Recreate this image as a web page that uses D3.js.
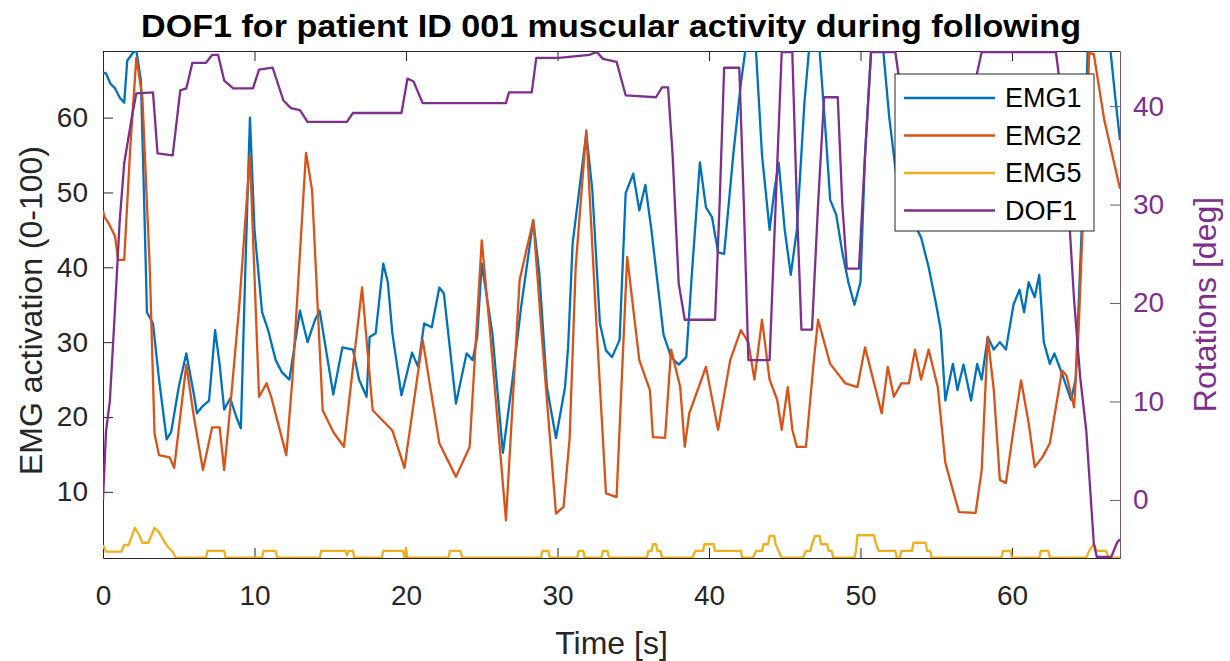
<!DOCTYPE html>
<meta charset="utf-8">
<style>
body { margin: 0; background: #fff; }
text { font-family: "Liberation Sans", Arial, sans-serif; }
</style>
<svg width="1230" height="661"></svg>
<script src="https://d3js.org/d3.v7.min.js"></script>
<script>

// tick labels
var timeTicks = [0, 10, 20, 30, 40, 50, 60];
var emgTicks = [10, 20, 30, 40, 50, 60];
var rotTicks = [0, 10, 20, 30, 40];
var seriesNames = ["EMG1", "EMG2", "EMG5", "DOF1"];

// [time s, activation]
var emg1 = [[0,66],[0.2,65.9],[0.5,64.5],[0.8,63.9],[1.1,62.7],[1.4,62],[1.6,67.6],[1.95,68.6],[2.2,69],[2.5,65],[2.7,50],[2.9,34],[3.3,32.5],[3.7,25],[4.2,17],[4.5,18],[5.0,24],[5.5,28.5],[6.0,23],[6.2,20.5],[6.6,21.5],[7.0,22.2],[7.4,31.6],[7.7,27],[8.0,21],[8.4,22.5],[8.8,20],[9.1,18.5],[9.4,40],[9.7,60],[10.0,45],[10.5,34],[10.9,31.6],[11.4,27.6],[11.8,26],[12.3,25],[13.0,34.2],[13.5,30],[14.0,33],[14.3,34.2],[14.8,28],[15.2,23],[15.8,29.3],[16.5,29],[16.9,25],[17.4,22.7],[17.6,30.7],[18.0,31.2],[18.5,40.5],[18.8,38],[19.1,31.2],[19.7,22.9],[20.4,28.6],[20.8,26.7],[21.2,32.5],[21.7,32],[22.2,37.3],[22.5,36.5],[23.3,21.8],[24.0,28.5],[24.4,27.6],[24.7,30.7],[25.0,40.5],[25.7,31.2],[26.4,15.2],[27.0,24.5],[27.6,34.7],[28.4,46.3],[28.8,39.2],[29.3,24],[29.9,17.2],[30.5,24],[30.7,29.3],[31.0,43.2],[31.9,57.9],[32.3,50.3],[32.8,32.5],[33.2,28.9],[33.6,28],[34.1,30.3],[34.5,49.9],[35.0,52.5],[35.4,47.6],[35.8,51],[36.2,45],[36.6,38],[37.0,31],[37.5,28],[38.0,27],[38.5,28],[38.9,40],[39.4,54],[39.8,48],[40.2,46.7],[40.6,42],[41.0,41.8],[41.6,55],[42.1,64.5],[42.4,69],[43.1,69],[43.5,55],[44.0,45],[44.3,50],[44.6,54],[45.0,45],[45.4,39],[45.8,45],[46.3,62],[46.6,69],[47.3,69],[47.7,58],[48.0,49],[48.4,47],[48.8,42],[49.2,38],[49.6,35],[50.0,38],[50.3,55],[50.7,69],[51.5,69],[51.9,60],[52.5,50],[53.0,47],[53.5,46],[54.0,44],[54.5,40],[55.0,35],[55.3,31.6],[55.6,22.2],[56.1,27.1],[56.4,23.6],[56.8,27],[57.3,22.2],[57.7,27.1],[58.0,25],[58.4,30.7],[58.8,29],[59.2,30],[59.6,29],[60.1,35],[60.5,37],[60.8,34],[61.1,38],[61.5,36],[61.8,39],[62.1,30],[62.5,27.1],[62.8,28.5],[63.3,25.8],[63.9,22.3],[64.2,25],[64.6,45],[65.0,69],[66.5,69],[66.8,63],[67.13,57]];

var emg2 = [[0,47.6],[0.1,46.7],[0.4,45.8],[0.8,44.1],[1.0,41],[1.4,41],[1.8,56],[2.2,68],[2.6,62.7],[3.1,39.2],[3.4,17.8],[3.7,14.9],[4.4,14.6],[4.7,13.2],[5.5,27],[6.0,20],[6.6,12.9],[7.2,18.6],[7.7,18.6],[8.0,12.9],[8.4,21.3],[9.0,35],[9.7,55],[10.3,22.7],[10.8,24.5],[11.1,22.7],[12.1,14.9],[12.5,25],[13.4,55.3],[13.8,50.3],[14.5,20.9],[15.2,18],[15.9,16],[17.1,37.3],[17.8,20.9],[19.1,18.2],[19.9,13.2],[21.1,30.3],[22.2,16.5],[23.3,12],[24.2,16],[25.0,43.6],[25.5,32.5],[26.6,6.2],[27.5,38.3],[28.4,46.3],[29.0,30],[29.9,7.1],[30.4,8],[30.8,17.1],[31.2,40],[31.9,58.3],[32.5,35],[33.2,9.8],[33.9,9.3],[34.6,41.4],[35.4,27.6],[36.1,23.6],[36.3,17.3],[37.1,17.2],[37.5,29],[38.1,24],[38.4,16],[38.7,20.5],[39.8,26.7],[40.6,18.3],[41.4,27.6],[42.1,31.6],[42.6,30],[43.0,25],[43.5,33],[44.0,25],[44.5,22.3],[44.8,18.3],[45.2,24],[45.5,18.3],[45.8,16],[46.4,16],[46.9,27.1],[47.2,33],[48.0,27.1],[48.5,25.8],[49.0,24.5],[49.8,24],[50.3,29.3],[51.4,20.5],[51.8,26.7],[52.2,22.7],[52.7,24.5],[53.2,24.5],[53.6,29],[54.0,25],[54.5,29],[55.1,24],[55.6,13.9],[56.1,10.2],[56.5,7.3],[57.6,7.2],[58.0,12.9],[58.4,30.7],[58.8,23.6],[59.2,11.6],[59.6,11.2],[60.1,18.3],[60.6,24.9],[61.1,19.2],[61.5,13.3],[62.0,14.6],[62.5,16.5],[63.3,26.2],[63.6,25.5],[64.1,21.3],[64.4,31.6],[65.1,68.6],[65.4,68.5],[66.1,59.6],[67.13,50.5]];

var emg5 = [[0,2.9],[0.2,2.0],[1.2,2.0],[1.4,2.9],[1.7,2.9],[2.1,5.2],[2.4,4.2],[2.6,3.2],[3.0,3.2],[3.4,5.2],[3.7,4.6],[4.0,3.5],[4.3,2.6],[4.6,2.0],[4.8,1.2],[6.8,1.2],[6.9,2.1],[8.0,2.1],[8.1,1.2],[10.5,1.2],[10.6,2.1],[11.4,2.1],[11.5,1.2],[14.3,1.2],[14.4,2.1],[16.0,2.1],[16.1,1.5],[16.2,2.1],[16.5,2.1],[16.6,1.2],[18.4,1.2],[18.5,2.1],[19.8,2.1],[19.9,1.2],[20.0,2.5],[20.1,1.2],[22.8,1.2],[22.9,2.1],[23.6,2.1],[23.7,1.2],[28.9,1.2],[29.0,2.1],[29.4,2.1],[29.5,1.2],[31.3,1.2],[31.4,2.1],[31.7,2.1],[31.8,1.2],[32.9,1.2],[33.0,2.1],[33.3,2.1],[33.4,1.2],[35.9,1.2],[36.0,2.1],[36.2,2.1],[36.3,3.0],[36.5,3.0],[36.6,2.1],[36.8,2.1],[36.9,1.2],[38.9,1.2],[39.1,2.1],[39.6,2.1],[39.7,3.0],[40.3,3.0],[40.4,2.1],[42.1,2.1],[42.2,1.2],[42.9,1.2],[43.1,2.1],[43.5,2.1],[43.6,3.0],[43.9,3.0],[44.0,4.1],[44.3,4.1],[44.4,3.0],[44.6,2.1],[44.8,1.2],[46.2,1.2],[46.4,2.1],[46.7,2.1],[46.8,3.0],[47.0,4.1],[47.3,4.1],[47.4,3.0],[47.8,3.0],[47.9,2.1],[48.1,2.1],[48.2,1.2],[49.6,1.2],[49.7,2.1],[49.8,4.2],[50.9,4.2],[51.0,3.2],[51.2,2.1],[52.3,2.1],[52.4,1.2],[52.6,1.2],[52.7,2.1],[53.4,2.1],[53.5,3.2],[54.3,3.2],[54.4,2.1],[54.6,2.1],[54.7,1.2],[59.3,1.2],[59.4,2.1],[59.9,2.1],[60.0,1.2],[61.8,1.2],[61.9,2.1],[62.4,2.1],[62.5,1.2],[64.9,1.2],[65.1,2.1],[65.4,3.0],[65.6,2.1],[66.2,2.1],[66.4,1.2],[67.13,1.2]];

// [time s, rotation deg]
var dof1 = [[0,0],[0.2,7],[0.45,10],[0.76,18.5],[1.1,28.3],[1.4,34.2],[1.95,39.3],[2.2,41.3],[3.3,41.4],[3.6,35.2],[4.6,35],[5.1,41.6],[5.5,41.8],[5.9,44.4],[6.8,44.4],[7.2,45.2],[7.6,45.2],[8.0,42.6],[8.6,41.8],[9.9,41.8],[10.3,43.7],[11.2,43.9],[11.9,40.6],[12.4,39.8],[13.0,39.6],[13.5,38.4],[16.1,38.4],[16.5,39.3],[19.7,39.3],[20.1,42.8],[20.5,42.5],[21.1,40.3],[26.6,40.3],[26.8,41.4],[28.3,41.4],[28.6,44.9],[30.1,44.9],[32.1,45.2],[32.6,45.5],[33.0,44.8],[33.9,44.5],[34.5,41.1],[36.5,40.9],[36.9,41.9],[37.3,41.9],[37.6,35],[38.0,22],[38.4,18.3],[40.4,18.3],[40.7,30],[41.0,43.9],[42.0,43.9],[42.3,30],[42.6,14.2],[44.0,14.2],[44.4,30],[44.8,45.5],[45.5,45.5],[45.8,30],[46.1,17.3],[46.8,17.3],[47.2,30],[47.6,40.9],[48.5,40.9],[48.8,30],[49.1,23.5],[49.9,23.5],[50.3,35],[50.7,45.5],[52.3,45.5],[52.8,40],[53.5,38],[56.5,38],[57.5,42],[58.0,45.5],[62.9,45.5],[63.3,40.6],[63.7,30.5],[64.1,20.3],[64.5,12.5],[64.9,7.1],[65.4,-4.4],[65.6,-5.8],[66.55,-5.8],[66.95,-4.3],[67.13,-4]];

var colors = ["#0072BD", "#D95319", "#EDB120", "#7E2F8E"];

var svg = d3.select("svg"),
    margin = {top: 51, right: 110, bottom: 103, left: 103},
    width = +svg.attr("width") - margin.left - margin.right,
    height = +svg.attr("height") - margin.top - margin.bottom;

var x = d3.scaleLinear().domain([0, 67.13]).range([0, width]);
var y = d3.scaleLinear().domain([1.16, 68.9]).range([height, 0]);
var y2 = d3.scaleLinear().domain([-5.9, 45.6]).range([height, 0]);

var g = svg.append("g")
    .attr("transform", "translate(" + margin.left + "," + margin.top + ")");

g.append("clipPath").attr("id", "clip")
  .append("rect").attr("width", width).attr("height", height);

// axes, matlab style (ticks pointing in)
var ax = g.append("g").attr("class", "axes");

ax.append("g")
    .attr("transform", "translate(0," + height + ")")
    .call(d3.axisBottom(x).tickValues(timeTicks).tickSize(-10).tickSizeOuter(0).tickPadding(27));

ax.append("g")
    .call(d3.axisTop(x).tickValues(timeTicks).tickSize(-10).tickSizeOuter(0).tickFormat(""));

ax.append("g")
    .call(d3.axisLeft(y).tickValues(emgTicks).tickSize(-10).tickSizeOuter(0).tickPadding(15));

var right = ax.append("g")
    .attr("transform", "translate(" + width + ",0)")
    .call(d3.axisRight(y2).tickValues(rotTicks).tickSize(-10).tickSizeOuter(0).tickPadding(13));

ax.selectAll("text").attr("font-size", 28).attr("fill", "#262626");
ax.selectAll("path, line").attr("stroke", "#262626");
right.selectAll("text").attr("fill", "#7E2F8E");
right.selectAll("path, line").attr("stroke", "#6f5a7a");

// lines
var lineL = d3.line().x(function(d) { return x(d[0]); }).y(function(d) { return y(d[1]); });
var lineR = d3.line().x(function(d) { return x(d[0]); }).y(function(d) { return y2(d[1]); });

var plot = g.append("g").attr("clip-path", "url(#clip)");
[emg1, emg2, emg5].forEach(function(s, i) {
  plot.append("path").datum(s)
    .attr("fill", "none").attr("stroke", colors[i]).attr("stroke-width", 2.3)
    .attr("stroke-linejoin", "round")
    .attr("d", lineL);
});
plot.append("path").datum(dof1)
  .attr("fill", "none").attr("stroke", colors[3]).attr("stroke-width", 2.3)
  .attr("stroke-linejoin", "round")
  .attr("d", lineR);

// titles
svg.append("text")
  .attr("x", 611).attr("y", 37)
  .attr("text-anchor", "middle").attr("font-weight", "bold").attr("font-size", 31)
  .attr("textLength", 940).attr("lengthAdjust", "spacingAndGlyphs")
  .attr("fill", "#000")
  .text("DOF1 for patient ID 001 muscular activity during following");

svg.append("text")
  .attr("x", margin.left + width / 2).attr("y", 654)
  .attr("text-anchor", "middle").attr("font-size", 32).attr("fill", "#262626")
  .text("Time [s]");

svg.append("text")
  .attr("transform", "translate(42," + (margin.top + height / 2 + 6) + ") rotate(-90)")
  .attr("text-anchor", "middle").attr("font-size", 32).attr("fill", "#262626")
  .text("EMG activation (0-100)");

svg.append("text")
  .attr("transform", "translate(1216," + (margin.top + height / 2) + ") rotate(-90)")
  .attr("text-anchor", "middle").attr("font-size", 32).attr("fill", "#7E2F8E")
  .text("Rotations [deg]");

// legend
var leg = svg.append("g").attr("transform", "translate(895,74)");
leg.append("rect").attr("width", 199).attr("height", 157)
  .attr("fill", "#fff").attr("stroke", "#262626").attr("stroke-width", 1);
seriesNames.forEach(function(n, i) {
  var yy = 24 + i * 37.5;
  leg.append("line").attr("x1", 9).attr("x2", 100).attr("y1", yy).attr("y2", yy)
    .attr("stroke", colors[i]).attr("stroke-width", 2.3);
  leg.append("text").attr("x", 110).attr("y", yy).attr("dy", "0.35em")
    .attr("font-size", 27).attr("fill", "#000").text(n);
});

</script>
